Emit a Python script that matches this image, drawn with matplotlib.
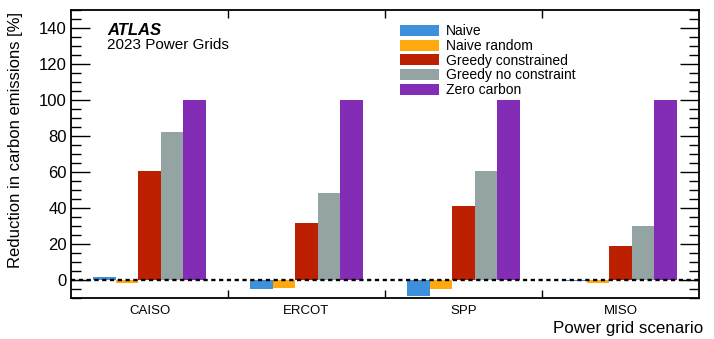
import matplotlib
matplotlib.use("Agg")
import matplotlib.pyplot as plt
import numpy as np
from matplotlib.ticker import MultipleLocator, FixedLocator, FixedFormatter

plt.rcParams['font.family'] = ['Liberation Sans', 'DejaVu Sans']

categories = ["CAISO", "ERCOT", "SPP", "MISO"]
series_names = ["Naive", "Naive random", "Greedy constrained", "Greedy no constraint", "Zero carbon"]
naive = [1.8, -5.2, -8.9, -0.3]
naive_random = [-1.8, -4.6, -5.2, -1.5]
greedy_constrained = [60.5, 31.5, 41.3, 18.9]
greedy_no_constraint = [82.3, 48.1, 60.6, 30.0]
zero_carbon = [100.0, 100.0, 100.0, 100.0]
colors = ["#3f90da", "#ffa90e", "#bd1f01", "#94a4a2", "#832db6"]

series = [naive, naive_random, greedy_constrained, greedy_no_constraint, zero_carbon]

W, H = 714, 339
fig = plt.figure(figsize=(W / 100, H / 100), dpi=100)
ax = fig.add_axes([71 / W, 1 - 298 / H, (699 - 71) / W, (298 - 10) / H])

n = len(series)
width = 0.144
x = np.arange(len(categories)) + 0.5
for i, (vals, name, c) in enumerate(zip(series, series_names, colors)):
    ax.bar(x + (i - (n - 1) / 2) * width, vals, width, color=c, label=name,
           edgecolor='none', zorder=2)

ax.axhline(0, color='black', linestyle=(0, (1.8, 1.5)), linewidth=1.7, zorder=3)

ax.set_xlim(0, len(categories))
ax.set_ylim(-10, 150)
ax.xaxis.set_major_locator(FixedLocator([1, 2, 3]))
ax.xaxis.set_minor_locator(FixedLocator(list(x)))
ax.set_xticklabels([])
ax.xaxis.set_minor_formatter(FixedFormatter(categories))
ax.tick_params(axis='x', which='minor', length=0, labelsize=9.5, pad=5)
ax.tick_params(axis='x', which='major', direction='in', length=6, width=1.0, top=True, bottom=True)
ax.yaxis.set_major_locator(MultipleLocator(20))
ax.yaxis.set_minor_locator(MultipleLocator(5))
ax.tick_params(axis='y', which='major', direction='in', length=14, width=1.0,
               left=True, right=True, labelsize=12, pad=3)
ax.tick_params(axis='y', which='minor', direction='in', length=7, width=1.0, left=True, right=True)
for s in ax.spines.values():
    s.set_linewidth(1.3)

fig.text(15.5 / W, 1 - 12 / H, "Reduction in carbon emissions [%]", fontsize=12,
         rotation=90, ha='center', va='top')
fig.text(703 / W, 6 / H, "Power grid scenario", fontsize=12.2, ha='right', va='baseline')

ax.text(107 / W, 1 - 35 / H, "ATLAS", transform=fig.transFigure, fontsize=12,
        fontweight='bold', fontstyle='italic', va='baseline')
ax.text(107 / W, 1 - 49 / H, "2023 Power Grids", transform=fig.transFigure, fontsize=11,
        va='baseline')

leg = ax.legend(loc='upper left', bbox_to_anchor=(0.524, 0.95), frameon=False,
                fontsize=10, handlelength=2.8, handleheight=0.84,
                labelspacing=0.05, handletextpad=0.5, borderaxespad=0, borderpad=0)

fig.savefig("out.png", dpi=100)
